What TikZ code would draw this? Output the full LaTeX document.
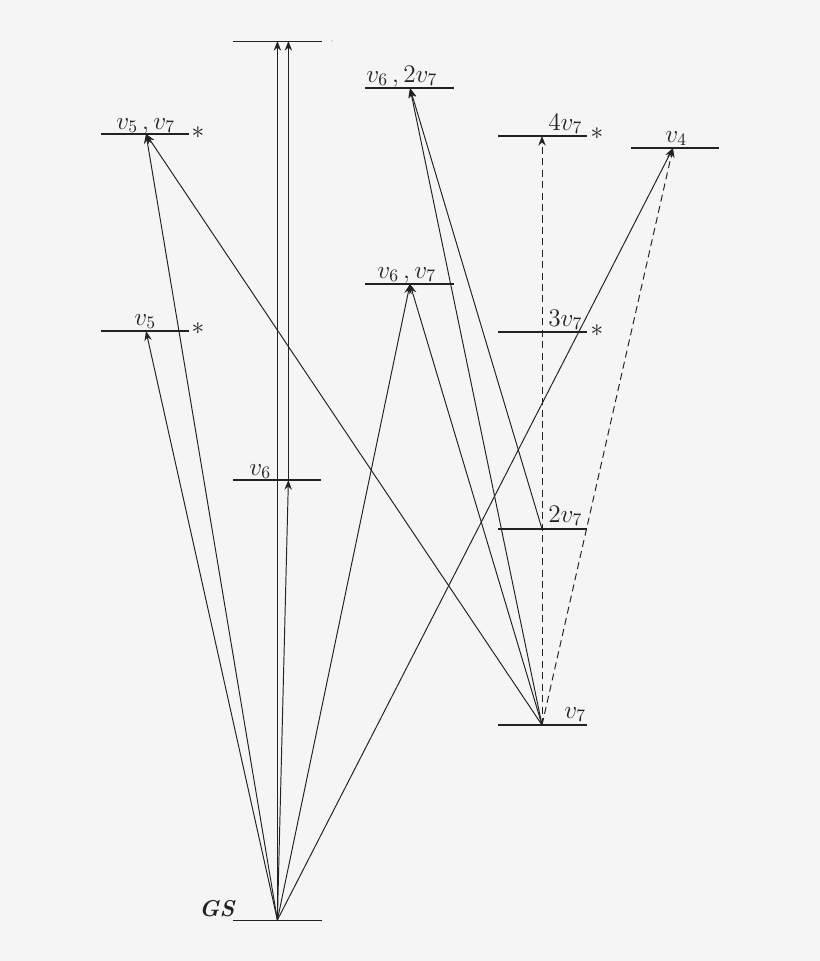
\documentclass[tikz,border=0pt]{standalone}
\usetikzlibrary{arrows.meta}
\definecolor{bg}{HTML}{F5F5F5}
\definecolor{ink}{HTML}{222222}
\begin{document}
\begin{tikzpicture}[x=0.02cm,y=-0.02cm,
  level/.style={ink,line width=1.6pt},
  thinlevel/.style={ink,line width=0.4pt},
  tr/.style={ink,line width=0.55pt,-{Stealth[length=5.5pt,width=4.2pt]}},
  dtr/.style={tr,dashed,dash pattern=on 4pt off 2.5pt},
  lab/.style={font=\fontsize{14}{16}\selectfont,inner sep=0pt,anchor=base west,text=ink},
  star/.style={font=\fontsize{14}{16}\selectfont,inner sep=0pt,text=ink}]
\fill[bg] (0,0) rectangle (820,961);
\useasboundingbox (0,0) rectangle (820,961);
% level points
\coordinate (gs) at (277.4,920);
\coordinate (topA) at (277.4,41);
\coordinate (topB) at (288.4,41);
\coordinate (v6) at (288.4,480);
\coordinate (v5) at (146,331);
\coordinate (v5v7) at (146,134);
\coordinate (v6v7) at (410,284);
\coordinate (v62v7) at (410,88);
\coordinate (f4v7) at (542,136);
\coordinate (t3v7) at (542,332);
\coordinate (s2v7) at (542,529);
\coordinate (v7) at (542,725);
\coordinate (v4) at (673,148);
% level lines
\draw[thinlevel] (233,41) -- (322,41);
\fill[ink!60] (332,41) circle (0.6);
\draw[level] (101,134) -- (189,134);
\draw[level] (365,88) -- (454,88);
\draw[level] (498,136) -- (587,136);
\draw[level] (631,148) -- (719,148);
\draw[level] (101,331) -- (189,331);
\draw[level] (365,284) -- (454,284);
\draw[level] (498,332) -- (587,332);
\draw[level] (233,480) -- (321,480);
\draw[level] (498,529) -- (587,529);
\draw[level] (498,725) -- (587,725);
\draw[thinlevel] (233,920) -- (322,920);
% labels
\node[lab] (l-v5v7) at (116,129) {$v_5\,, v_7$};
\node[star] (s-v5v7) at (198,133) {$*$};
\node[lab] (l-v62v7) at (366,82) {$v_6\,, 2v_7$};
\node[lab] (l-4v7) at (548,130) {$4v_7$};
\node[star] (s-4v7) at (597,134) {$*$};
\node[lab] (l-v4) at (665,142) {$v_4$};
\node[lab] (l-v5) at (134,325) {$v_5$};
\node[star] (s-v5) at (198,329) {$*$};
\node[lab] (l-v6v7) at (377,278) {$v_6\,, v_7$};
\node[lab] (l-3v7) at (548,326) {$3v_7$};
\node[star] (s-3v7) at (597,331) {$*$};
\node[lab] (l-v6) at (249,475) {$v_6$};
\node[lab] (l-2v7) at (548,522) {$2v_7$};
\node[lab] (l-v7) at (564,718) {$v_7$};
\node[font=\fontsize{13}{15}\selectfont,inner sep=0pt,anchor=base east,text=ink] (l-gs) at (236,916) {\textbf{\textit{GS}}};
% transitions from GS
\draw[tr] (gs) -- (v5);
\draw[tr] (gs) -- (v5v7);
\draw[tr] (gs) -- (topA);
\draw[tr] (gs) -- (v6);
\draw[tr] (v6) -- (topB);
\draw[tr] (gs) -- (v6v7);
\draw[tr] (gs) -- (v4);
% transitions from v7
\draw[tr] (v7) -- (v5v7);
\draw[tr] (v7) -- (v6v7);
\draw[tr] (v7) -- (v62v7);
\draw[dtr] (v7) -- (f4v7);
\draw[dtr] (v7) -- (v4);
% from 2v7
\draw[tr] (s2v7) -- (v62v7);
\end{tikzpicture}
\end{document}
